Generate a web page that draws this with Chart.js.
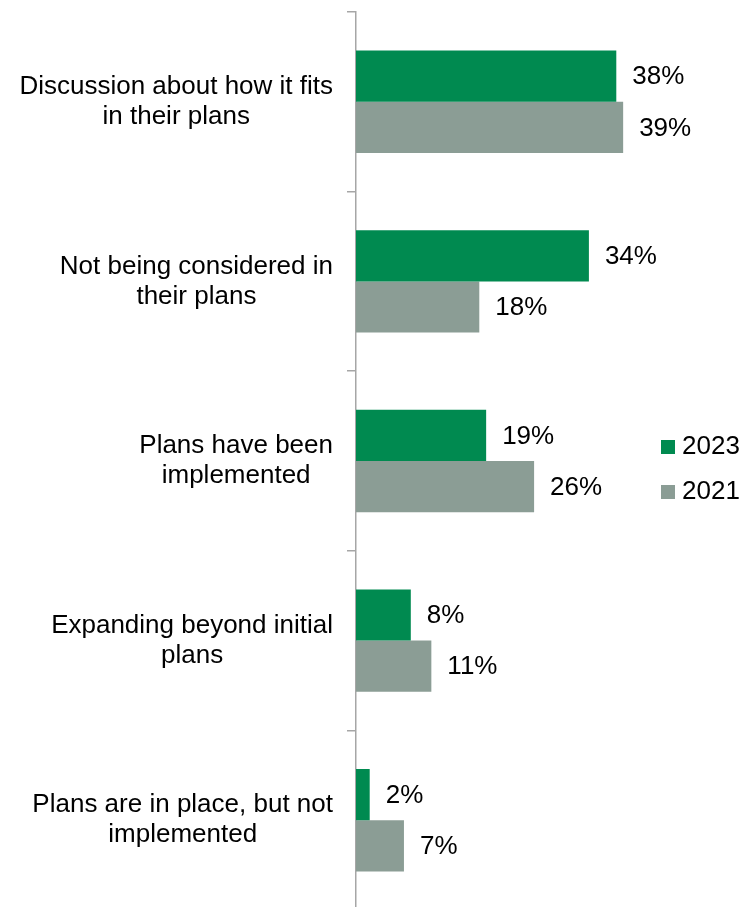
<!DOCTYPE html>
<html>
<head>
<meta charset="utf-8">
<script src="https://cdn.jsdelivr.net/npm/chart.js@4.4.1/dist/chart.umd.min.js"></script>
<style>
  html, body { margin: 0; padding: 0; background: #ffffff; overflow: hidden; }
  #wrap { width: 756px; height: 910px; position: relative; }
</style>
</head>
<body>
<div id="wrap"><canvas id="c"></canvas></div>
<script>
// Survey responses, share of respondents (%)
const categories = [
  ["Discussion about how it fits", "in their plans"],
  ["Not being considered in", "their plans"],
  ["Plans have been", "implemented"],
  ["Expanding beyond initial", "plans"],
  ["Plans are in place, but not", "implemented"]
];
const seriesNames = ["2023", "2021"];
const values2023 = [38, 34, 19, 8, 2];
const values2021 = [39, 18, 26, 11, 7];

const GREEN = '#008A50';
const GREY = '#8B9D95';
const FONT = '"Liberation Sans", Arial, sans-serif';
const FONT_SIZE = 26;

// Category labels: block right-aligned to the axis, lines centred within the block
const categoryLabels = {
  id: 'categoryLabels',
  afterDraw(chart) {
    const ctx = chart.ctx;
    const y = chart.scales.y;
    const lineH = 30;
    ctx.save();
    ctx.font = FONT_SIZE + 'px ' + FONT;
    ctx.fillStyle = '#000000';
    ctx.textAlign = 'center';
    ctx.textBaseline = 'middle';
    const right = y.right - 23;
    categories.forEach((lines, i) => {
      const cy = y.getPixelForValue(i);
      const w = Math.max(...lines.map(l => ctx.measureText(l).width));
      const cx = right - w / 2;
      const top = cy - (lines.length - 1) * lineH / 2;
      lines.forEach((l, k) => ctx.fillText(l, cx, top + k * lineH));
    });
    ctx.restore();
  }
};

// Value labels to the right of each bar
const valueLabels = {
  id: 'valueLabels',
  afterDatasetsDraw(chart) {
    const ctx = chart.ctx;
    ctx.save();
    ctx.font = FONT_SIZE + 'px ' + FONT;
    ctx.fillStyle = '#000000';
    ctx.textAlign = 'left';
    ctx.textBaseline = 'middle';
    chart.data.datasets.forEach((ds, di) => {
      chart.getDatasetMeta(di).data.forEach((bar, i) => {
        ctx.fillText(ds.data[i] + '%', bar.x + 16, bar.y + 1);
      });
    });
    ctx.restore();
  }
};

// Legend with square swatches at the right side of the plot
const sideLegend = {
  id: 'sideLegend',
  afterDraw(chart) {
    const ctx = chart.ctx;
    const x0 = 661, y0 = 447, gap = 45, box = 14;
    ctx.save();
    ctx.font = FONT_SIZE + 'px ' + FONT;
    ctx.textAlign = 'left';
    ctx.textBaseline = 'middle';
    chart.data.datasets.forEach((ds, i) => {
      const cy = y0 + i * gap;
      ctx.fillStyle = ds.backgroundColor;
      ctx.fillRect(x0, cy - box / 2, box, box);
      ctx.fillStyle = '#000000';
      ctx.fillText(ds.label, x0 + 21, cy);
    });
    ctx.restore();
  }
};

new Chart(document.getElementById('c'), {
  type: 'bar',
  data: {
    labels: categories.map(l => l.join(' ')),
    datasets: [
      { label: seriesNames[0], data: values2023, backgroundColor: GREEN },
      { label: seriesNames[1], data: values2021, backgroundColor: GREY }
    ]
  },
  options: {
    indexAxis: 'y',
    responsive: true,
    maintainAspectRatio: false,
    animation: false,
    layout: { padding: { top: 12, right: 57.5, bottom: 0, left: 0 } },
    datasets: { bar: { categoryPercentage: 0.57, barPercentage: 1.0 } },
    scales: {
      x: {
        display: false,
        min: 0,
        max: 50
      },
      y: {
        type: 'category',
        afterFit(scale) { scale.width = 356; },
        grid: {
          offset: true,
          drawOnChartArea: false,
          drawTicks: true,
          tickLength: 9,
          color: '#a6a6a6',
          lineWidth: 1.5
        },
        border: { display: true, color: '#a6a6a6', width: 1.5 },
        ticks: { display: false }
      }
    },
    plugins: {
      legend: { display: false },
      tooltip: { enabled: false }
    }
  },
  plugins: [categoryLabels, valueLabels, sideLegend]
});
</script>
</body>
</html>
